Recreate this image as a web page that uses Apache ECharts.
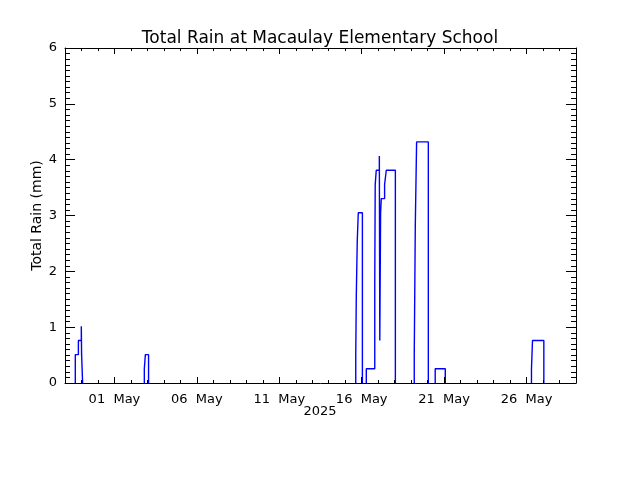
<!DOCTYPE html>
<html>
<head>
<meta charset="utf-8">
<script src="https://cdn.jsdelivr.net/npm/echarts@6/dist/echarts.min.js"></script>
<style>html,body{margin:0;padding:0;background:#fff}#c{width:640px;height:480px}</style>
</head>
<body>
<div id="c"></div>
<script>
// Step data: each entry is [time, total rain (mm)] starting at that time (0 = no rain)
var times = [
  "2025-04-28 00:00","2025-04-28 15:00","2025-04-28 19:30","2025-04-28 23:45","2025-04-29 00:10","2025-04-29 01:40",
  "2025-05-02 19:30","2025-05-02 21:00","2025-05-03 01:40",
  "2025-05-15 15:20","2025-05-15 16:05","2025-05-15 17:30","2025-05-15 19:00","2025-05-16 01:00",
  "2025-05-16 06:40","2025-05-16 19:00","2025-05-16 19:40","2025-05-16 21:10","2025-05-17 01:40","2025-05-17 02:20",
  "2025-05-17 03:30","2025-05-17 04:30","2025-05-17 09:20","2025-05-17 11:45","2025-05-18 01:00",
  "2025-05-19 04:30","2025-05-19 06:00","2025-05-19 07:55","2025-05-20 01:00",
  "2025-05-20 11:00","2025-05-21 01:40",
  "2025-05-26 07:10","2025-05-26 08:40","2025-05-27 01:10",
  "2025-05-29 00:00"
];
var rain = [
  0, 0.508, 0.762, 1.016, 0.508, 0,
  0.254, 0.508, 0,
  0.508, 1.524, 2.54, 3.048, 0,
  0.254, 1.778, 3.556, 3.81, 4.064, 0.762,
  3.048, 3.302, 3.556, 3.81, 0,
  0.508, 2.794, 4.318, 0,
  0.254, 0,
  0.254, 0.762, 0,
  0
];
var majorDays = [0, 5, 10, 15, 20, 25];          // days after 01 May
var majorLabels = ["01  May", "06  May", "11  May", "16  May", "21  May", "26  May"];
var minorDays = [-2,-1,1,2,3,4,6,7,8,9,11,12,13,14,16,17,18,19,21,22,23,24,26,27];
var xMin = -3, xMax = 28;  // 28 Apr .. 29 May

function dayOffset(s) {
  var p = s.split(/[- :]/).map(Number);
  return (Date.UTC(p[0], p[1]-1, p[2], p[3], p[4]) - Date.UTC(2025, 4, 1)) / 86400000;
}
// Build step path; zero stretches are left out (they lie on the x axis)
var seriesData = [];
var prev = 0;
times.forEach(function (t, i) {
  var x = dayOffset(t), v = rain[i];
  if (v > 0 && prev === 0) { seriesData.push([x, 0]); seriesData.push([x, v]); }
  else if (v > 0) { seriesData.push([x, v]); }
  else if (v === 0 && prev > 0) { seriesData.push([x, 0]); seriesData.push([x, '-']); }
  prev = v;
});

var font = 'DejaVu Sans';
var black = '#000';
function xAx(pos, vals, len, showLine, labels) {
  return {
    type: 'value', position: pos, min: xMin, max: xMax, z: 5,
    axisLine: {show: showLine, onZero: false, lineStyle: {color: black, width: 1}},
    axisTick: {show: true, inside: true, length: len, customValues: vals, lineStyle: {color: black, width: 1}},
    axisLabel: labels ? {
      show: true, customValues: majorDays, margin: 10, color: black, fontFamily: font, fontSize: 13,
      formatter: function (v) { var i = majorDays.indexOf(v); return i >= 0 ? majorLabels[i] : ''; }
    } : {show: false},
    splitLine: {show: false}
  };
}
function yAx(pos, labels) {
  return {
    type: 'value', position: pos, min: 0, max: 6, interval: 1, z: 5,
    name: labels ? 'Total Rain (mm)' : '', nameLocation: 'middle', nameRotate: 90, nameGap: 21,
    nameMoveOverlap: false,
    nameTextStyle: {color: black, fontFamily: font, fontSize: 14},
    axisLine: {show: true, onZero: false, lineStyle: {color: black, width: 1}},
    axisTick: {show: true, inside: true, length: 10, lineStyle: {color: black, width: 1}},
    minorTick: {show: true, splitNumber: 10, length: 5, lineStyle: {color: black, width: 1}},
    axisLabel: {show: labels, margin: 8, color: black, fontFamily: font, fontSize: 13},
    splitLine: {show: false}, minorSplitLine: {show: false}
  };
}

var chart = echarts.init(document.getElementById('c'), null, {renderer: 'canvas'});
chart.setOption({
  backgroundColor: '#fff',
  animation: false,
  title: {
    text: 'Total Rain at Macaulay Elementary School', left: 'center', top: 25,
    textStyle: {color: black, fontFamily: font, fontSize: 17, fontWeight: 'normal'}
  },
  graphic: [{
    type: 'text', left: 'center', top: 405,
    style: {text: '2025', fill: black, font: '13px "DejaVu Sans"'}
  }],
  grid: {left: 65, top: 48, width: 511, height: 335, containLabel: false},
  xAxis: [
    xAx('bottom', majorDays, 6, true, true),
    xAx('bottom', minorDays, 3, false, false),
    xAx('top', majorDays, 6, true, false),
    xAx('top', minorDays, 3, false, false)
  ],
  yAxis: [yAx('left', true), yAx('right', false)],
  series: [{
    type: 'line', step: 'end', data: seriesData, xAxisIndex: 0, yAxisIndex: 0,
    showSymbol: false, symbol: 'none', connectNulls: false, z: 2,
    lineStyle: {color: '#0000ff', width: 1.4}
  }]
});
</script>
</body>
</html>
